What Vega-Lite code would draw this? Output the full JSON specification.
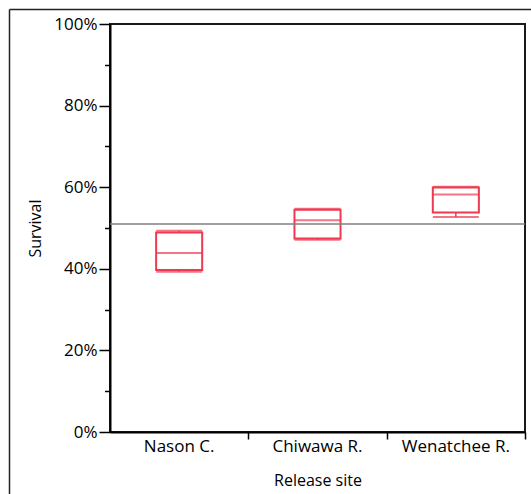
{
  "$schema": "https://vega.github.io/schema/vega-lite/v6.json",
  "width": 415,
  "height": 408,
  "autosize": {"type": "none"},
  "padding": {"left": 110, "top": 24, "right": 6, "bottom": 62},
  "background": "white",
  "config": {
    "view": {"stroke": "#1a1a1a", "strokeWidth": 2},
    "font": "Open Sans",
    "axis": {"grid": false, "labelFont": "Open Sans", "titleFont": "Open Sans", "labelColor": "black", "titleColor": "black", "titleFontWeight": "normal"}
  },
  "datasets": {
    "boxes": [
      {"site": "Nason C.", "lower": 0.393, "q1": 0.397, "median": 0.439, "q3": 0.489, "upper": 0.493},
      {"site": "Chiwawa R.", "lower": 0.471, "q1": 0.474, "median": 0.519, "q3": 0.545, "upper": 0.547},
      {"site": "Wenatchee R.", "lower": 0.527, "q1": 0.538, "median": 0.582, "q3": 0.599, "upper": 0.601}
    ],
    "reference": [{"survival": 0.51}],
    "frame": [{"fx": 0, "fy": 0}]
  },
  "resolve": {"scale": {"x": "independent", "y": "independent"}, "axis": {"x": "independent", "y": "independent"}},
  "layer": [
    {
      "layer": [
        {
          "data": {"name": "boxes"},
          "mark": {"type": "rule", "color": "#ee3a50", "strokeWidth": 1.5},
          "encoding": {
            "x": {
              "field": "site", "type": "nominal", "sort": null,
              "scale": {"paddingInner": 0, "paddingOuter": 0},
              "axis": {"orient": "bottom", "title": "Release site", "titleFontSize": 16, "titlePadding": 18, "labelFontSize": 17, "labelAngle": 0, "ticks": false, "tickSize": 0, "labelPadding": 6, "domainColor": "black", "domainWidth": 2}
            },
            "y": {"field": "q3", "type": "quantitative", "scale": {"domain": [0, 1], "nice": false},
              "axis": {"orient": "left", "values": [0, 0.2, 0.4, 0.6, 0.8, 1], "format": ".0%", "tickSize": 11, "tickWidth": 1.5, "tickColor": "black", "domainColor": "black", "domainWidth": 2, "labelFontSize": 17, "labelPadding": 2, "title": "Survival", "titleFontSize": 16, "titlePadding": 10}},
            "y2": {"field": "upper"}
          }
        },
        {
          "data": {"name": "boxes"},
          "mark": {"type": "rule", "color": "#ee3a50", "strokeWidth": 1.5},
          "encoding": {
            "x": {"field": "site", "type": "nominal", "sort": null},
            "y": {"field": "lower", "type": "quantitative"},
            "y2": {"field": "q1"}
          }
        },
        {
          "data": {"name": "boxes"},
          "mark": {"type": "bar", "fill": "white", "fillOpacity": 0, "stroke": "#ee3a50", "strokeWidth": 2, "width": {"band": 0.333}},
          "encoding": {
            "x": {"field": "site", "type": "nominal", "sort": null},
            "y": {"field": "q1", "type": "quantitative"},
            "y2": {"field": "q3"}
          }
        },
        {
          "data": {"name": "boxes"},
          "mark": {"type": "tick", "color": "#ee3a50", "size": 46, "thickness": 2, "orient": "horizontal"},
          "encoding": {
            "x": {"field": "site", "type": "nominal", "sort": null},
            "y": {"field": "median", "type": "quantitative"}
          }
        },
        {
          "data": {"name": "boxes"},
          "mark": {"type": "tick", "color": "#ee3a50", "size": 46, "thickness": 2, "orient": "horizontal"},
          "encoding": {
            "x": {"field": "site", "type": "nominal", "sort": null},
            "y": {"field": "upper", "type": "quantitative"}
          }
        },
        {
          "data": {"name": "boxes"},
          "mark": {"type": "tick", "color": "#ee3a50", "size": 46, "thickness": 2, "orient": "horizontal"},
          "encoding": {
            "x": {"field": "site", "type": "nominal", "sort": null},
            "y": {"field": "lower", "type": "quantitative"}
          }
        },
        {
          "data": {"name": "reference"},
          "mark": {"type": "rule", "color": "#808080", "strokeWidth": 1.5},
          "encoding": {"y": {"field": "survival", "type": "quantitative"}}
        }
      ]
    },
    {
      "data": {"name": "boxes"},
      "mark": {"type": "point", "opacity": 0},
      "encoding": {
        "x": {
          "field": "site", "type": "nominal", "sort": null,
          "scale": {"paddingInner": 0, "paddingOuter": 0},
          "axis": {"orient": "bottom", "values": ["Chiwawa R.", "Wenatchee R."], "tickBand": "extent", "tickExtra": false, "ticks": true, "tickSize": 7, "tickWidth": 1.5, "tickColor": "black", "labels": false, "domain": false, "title": null}
        },
        "y": {
          "field": "median", "type": "quantitative",
          "scale": {"domain": [0, 1], "nice": false},
          "axis": {"orient": "left", "values": [0.1, 0.3, 0.5, 0.7, 0.9], "tickSize": 5.5, "tickWidth": 1.5, "tickColor": "black", "labels": false, "domain": false, "title": null}
        }
      }
    },
    {
      "data": {"name": "frame"},
      "mark": {"type": "point", "opacity": 0},
      "encoding": {
        "x": {
          "field": "fx", "type": "quantitative",
          "scale": {"domain": [0, 1], "range": [-101, 421]},
          "axis": {"orient": "top", "offset": 15, "ticks": false, "labels": false, "title": null, "domainColor": "#222", "domainWidth": 1.5}
        },
        "y": {
          "field": "fy", "type": "quantitative",
          "scale": {"domain": [0, 1], "range": [470, -15]},
          "axis": {"orient": "left", "offset": 101, "ticks": false, "labels": false, "title": null, "domainColor": "#222", "domainWidth": 1.5}
        }
      }
    }
  ]
}
